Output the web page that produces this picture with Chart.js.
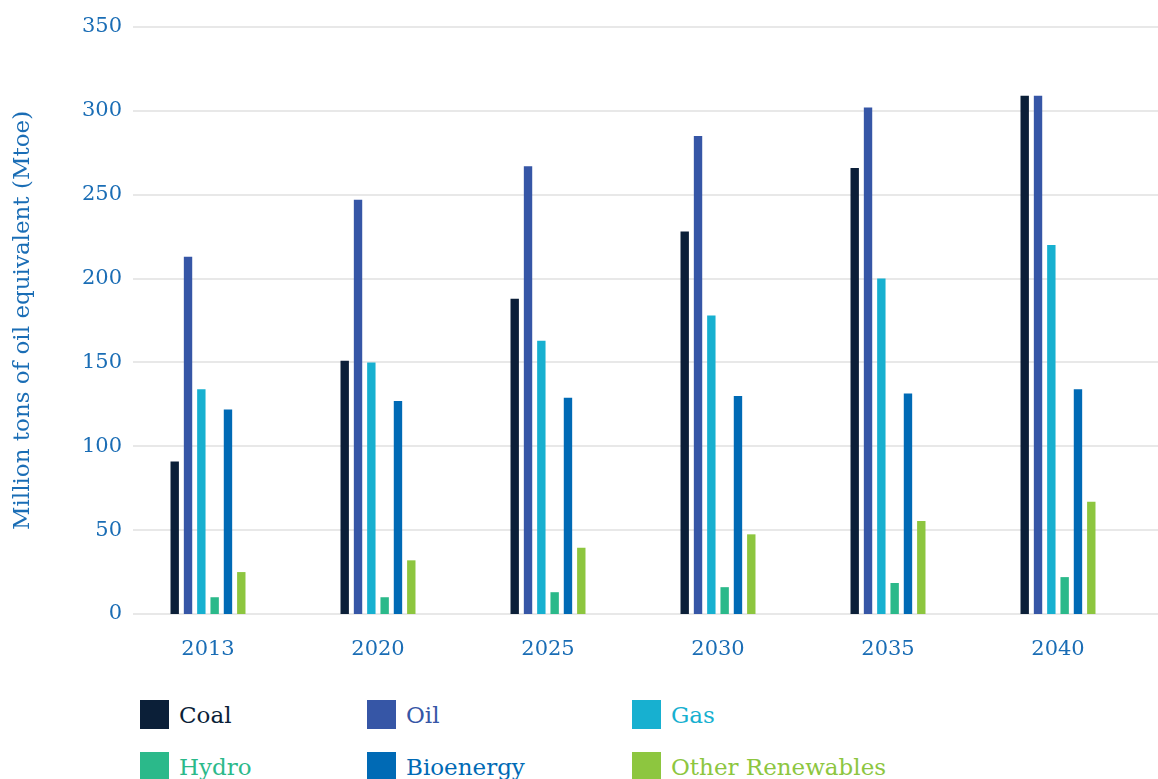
<!DOCTYPE html>
<html lang="en">
<head>
<meta charset="UTF-8">
<title>Energy demand by fuel</title>
<script src="https://cdn.jsdelivr.net/npm/chart.js"></script>
<style>
    body {
        margin: 0;
        padding: 0;
        background: #ffffff;
        width: 1158px;
        height: 779px;
        overflow: hidden;
        font-family: "DejaVu Serif", serif;
    }
    #wrap {
        position: relative;
        width: 1158px;
        height: 680px;
    }
    #legend {
        display: grid;
        grid-template-columns: 227px 265px 300px;
        grid-auto-rows: 52px;
        margin: 20px 0 0 140px;
    }
    .item {
        display: flex;
        align-items: center;
        font-size: 23px;
        height: 29px;
    }
    .box {
        width: 29px;
        height: 29px;
        margin-right: 10px;
    }
</style>
</head>
<body>

<div id="wrap"><canvas id="chart"></canvas></div>
<div id="legend"></div>

<script>
    const years = ['2013', '2020', '2025', '2030', '2035', '2040'];

    const coal = [91, 151, 188, 228, 266, 309];
    const oil = [213, 247, 267, 285, 302, 309];
    const gas = [134, 150, 163, 178, 200, 220];
    const hydro = [10, 10, 13, 16, 18.5, 22];
    const bioenergy = [122, 127, 129, 130, 131.5, 134];
    const otherRenewables = [25, 32, 39.5, 47.5, 55.5, 67];

    const yTicks = [0, 50, 100, 150, 200, 250, 300, 350];

    const series = [
        { label: 'Coal', data: coal, color: '#0b1f38' },
        { label: 'Oil', data: oil, color: '#3656a6' },
        { label: 'Gas', data: gas, color: '#17b0d0' },
        { label: 'Hydro', data: hydro, color: '#2bb98a' },
        { label: 'Bioenergy', data: bioenergy, color: '#006ab5' },
        { label: 'Other Renewables', data: otherRenewables, color: '#8dc63f' }
    ];

    const axisBlue = '#1a6db5';
    const fontFamily = '"DejaVu Serif", serif';

    // grid lines run a little past the plot area, like the original
    const gridPlugin = {
        id: 'gridLines',
        beforeDatasetsDraw(chart) {
            const ctx = chart.ctx;
            const y = chart.scales.y;
            ctx.save();
            ctx.strokeStyle = '#e8e8e8';
            ctx.lineWidth = 2;
            yTicks.forEach(v => {
                const py = Math.round(y.getPixelForValue(v));
                ctx.beginPath();
                ctx.moveTo(chart.chartArea.left + 10, py);
                ctx.lineTo(chart.width, py);
                ctx.stroke();
            });
            ctx.restore();
        }
    };

    const ctx = document.getElementById('chart').getContext('2d');
    const chart = new Chart(ctx, {
        type: 'bar',
        data: {
            labels: years,
            datasets: series.map(s => ({
                label: s.label,
                data: s.data,
                backgroundColor: s.color,
                borderWidth: 0
            }))
        },
        options: {
            responsive: true,
            maintainAspectRatio: false,
            animation: false,
            categoryPercentage: 0.47,
            barPercentage: 0.63,
            layout: {
                padding: { top: 27, right: 15, left: 0, bottom: 0 }
            },
            plugins: {
                legend: { display: false },
                tooltip: { enabled: false }
            },
            scales: {
                x: {
                    grid: { display: false },
                    border: { display: false },
                    ticks: {
                        color: axisBlue,
                        padding: 15,
                        font: { family: fontFamily, size: 21 }
                    },
                    afterFit(scale) { scale.height = 66; }
                },
                y: {
                    min: 0,
                    max: 350,
                    afterBuildTicks(scale) {
                        scale.ticks = yTicks.map(v => ({ value: v }));
                    },
                    grid: { display: false, drawTicks: false },
                    border: { display: false },
                    ticks: {
                        color: axisBlue,
                        padding: 1,
                        font: { family: fontFamily, size: 21 }
                    },
                    title: {
                        display: true,
                        text: 'Million tons of oil equivalent (Mtoe)',
                        color: axisBlue,
                        padding: { top: 9, bottom: 0 },
                        font: { family: fontFamily, size: 23 }
                    },
                    afterFit(scale) { scale.width = 123; }
                }
            }
        },
        plugins: [gridPlugin]
    });

    const legend = document.getElementById('legend');
    series.forEach(s => {
        const item = document.createElement('div');
        item.className = 'item';
        item.style.color = s.color;
        item.innerHTML = '<span class="box" style="background:' + s.color + '"></span>' + s.label;
        legend.appendChild(item);
    });
</script>

</body>
</html>
